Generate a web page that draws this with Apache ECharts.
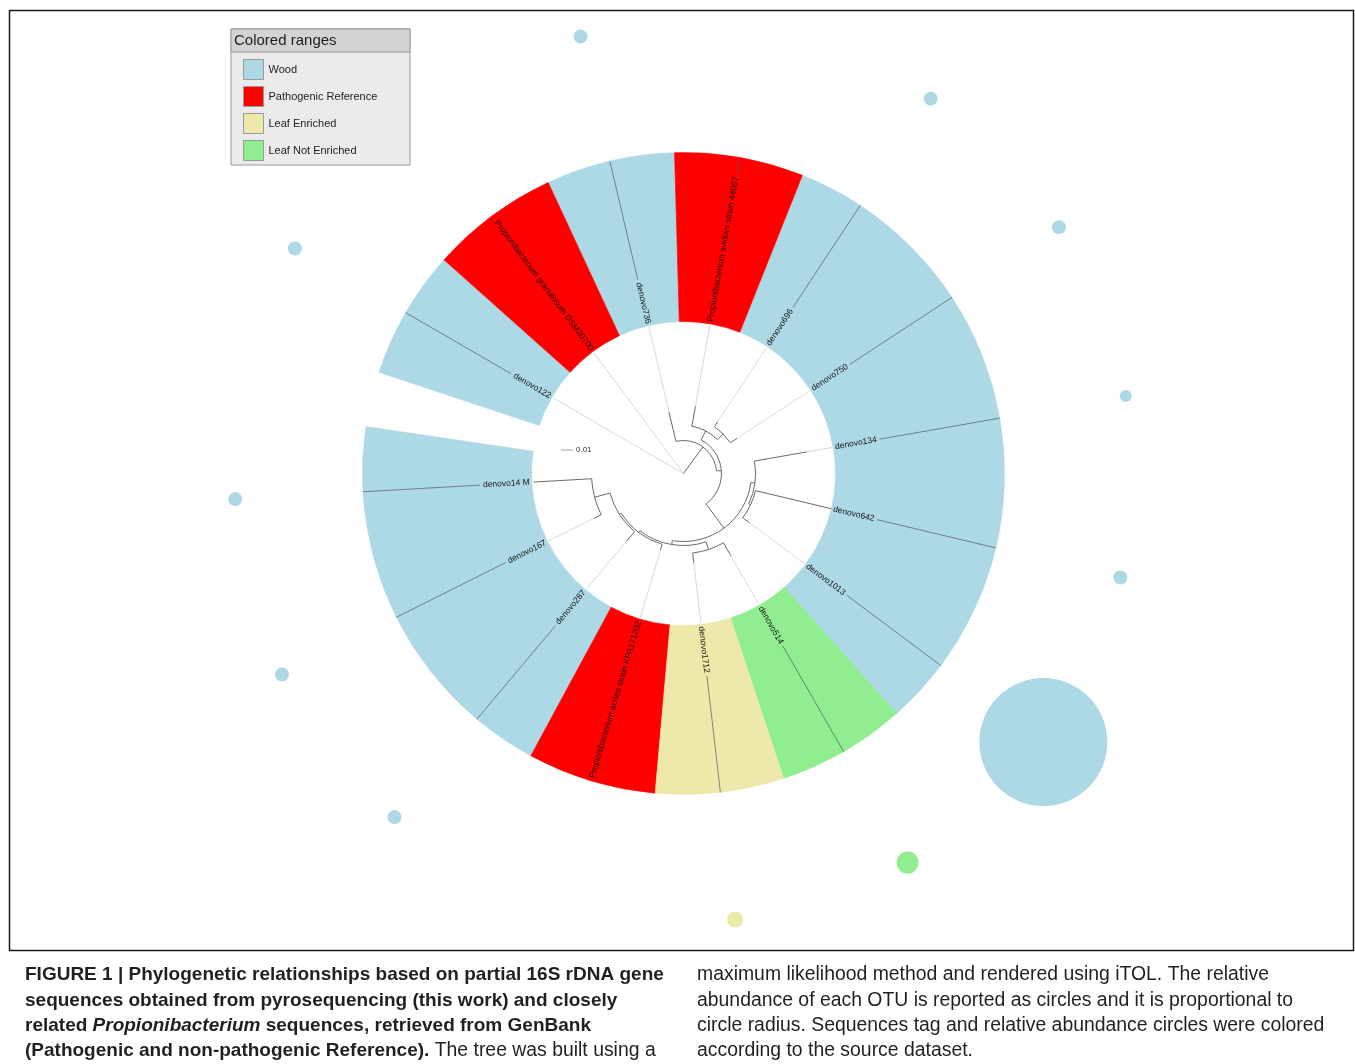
<!DOCTYPE html>
<html>
<head>
<meta charset="UTF-8">
<title>Figure 1 - Propionibacterium tree</title>
<style>
  html, body { margin: 0; padding: 0; background: #fff; }
  #chart { width: 1355px; height: 1064px; }
</style>
</head>
<body>
<div id="chart"></div>
<script src="https://cdn.jsdelivr.net/npm/echarts@6/dist/echarts.min.js"></script>
<script>
// leaves, clockwise starting after the gap on the left
var leafNames = ['denovo122', 'Propionibacterium granulosum DSM20700', 'denovo736', 'Propionibacterium avidum strain 44067',
  'denovo696', 'denovo750', 'denovo134', 'denovo642', 'denovo1013', 'denovo514', 'denovo1712',
  'Propionibacterium acnes strain KPA171202', 'denovo287', 'denovo167', 'denovo14 M'];
var leafGroup = ['Wood', 'Pathogenic Reference', 'Wood', 'Pathogenic Reference', 'Wood', 'Wood', 'Wood', 'Wood',
  'Wood', 'Leaf Not Enriched', 'Leaf Enriched', 'Pathogenic Reference', 'Wood', 'Wood', 'Wood'];
var leafParent = ['R', 'R', 'B', 'E', 'F', 'F', 'H', 'K', 'K', 'M', 'M', 'N', 'P', 'Q', 'Q'];
var leafDepth = [0, 0, 63, 68, 62, 64, 125, 152, 82, 95, 90, 80, 88, 100, 150];
var abundance = [7, 0, 7, 0, 7, 7, 6, 7, 64, 11, 8, 0, 7, 7, 7];

// internal nodes of the tree
var nodeIds = ['R', 'B', 'C', 'E', 'F', 'G', 'H', 'K', 'J', 'M', 'N', 'P', 'Q'];
var nodeParent = [null, 'R', 'B', 'C', 'E', 'C', 'G', 'H', 'G', 'J', 'J', 'N', 'P'];
var nodeDepth = [0, 33, 38, 48, 56, 68, 72, 74, 72, 80, 74, 76, 92];

var groupNames = ['Wood', 'Pathogenic Reference', 'Leaf Enriched', 'Leaf Not Enriched'];
var groupColors = ['#add8e6', '#ff0000', '#eee8aa', '#90ee90'];

var captionLeft = [
  [['b', 'FIGURE 1 | Phylogenetic relationships based on partial 16S rDNA gene']],
  [['b', 'sequences obtained from pyrosequencing (this work) and closely']],
  [['b', 'related '], ['bi', 'Propionibacterium'], ['b', ' sequences, retrieved from GenBank']],
  [['b', '(Pathogenic and non-pathogenic Reference).'], ['r', ' The tree was built using a']]
];
var captionRight = [
  'maximum likelihood method and rendered using iTOL. The relative',
  'abundance of each OTU is reported as circles and it is proportional to',
  'circle radius. Sequences tag and relative abundance circles were colored',
  'according to the source dataset.'
];

var RING_IN = 152, RING_OUT = 321, DOT_R = 449;
var FONT = '"Liberation Sans", Arial, Helvetica, sans-serif';
var LABEL_SIZE = 8.5;

// tree layout: a node sits halfway between its first and last child
var children = {}, lo = {}, hi = {}, ang = {}, depthOf = {};
nodeIds.forEach(function (id, k) { children[id] = []; depthOf[id] = nodeDepth[k]; });
leafParent.forEach(function (p, i) { children[p].push({ leaf: true, i: i }); });
nodeParent.forEach(function (p, k) { if (p) children[p].push({ leaf: false, id: nodeIds[k] }); });
function place(id) {
  var a = children[id].map(function (c) { return c.leaf ? c.i : place(c.id); });
  lo[id] = Math.min.apply(null, a);
  hi[id] = Math.max.apply(null, a);
  ang[id] = (lo[id] + hi[id]) / 2;
  return ang[id];
}
place('R');

var branchData = [];
leafNames.forEach(function (n, i) {
  branchData.push([leafDepth[i], i, depthOf[leafParent[i]], 0, 0, 1]);
});
nodeIds.forEach(function (id, k) {
  branchData.push([nodeDepth[k], ang[id], nodeParent[k] ? depthOf[nodeParent[k]] : 0, lo[id], hi[id], 0]);
});

var measure = document.createElement('canvas').getContext('2d');
measure.font = LABEL_SIZE + 'px ' + FONT;

function scrAngle(p, cs) { return Math.atan2(p[1] - cs.cy, p[0] - cs.cx); }
function dist(p, cs) { return Math.sqrt((p[0] - cs.cx) * (p[0] - cs.cx) + (p[1] - cs.cy) * (p[1] - cs.cy)); }
function seg(api, r1, r2, a, style) {
  var p = api.coord([r1, a]), q = api.coord([r2, a]);
  return { type: 'line', shape: { x1: p[0], y1: p[1], x2: q[0], y2: q[1] }, style: style };
}

function renderRange(params, api) {
  var cs = params.coordSys;
  var i = api.value(1);
  var s = api.coord([api.value(0), i - 0.5]), e = api.coord([api.value(0), i + 0.5]);
  var inner = dist(api.coord([RING_IN, i]), cs);
  var color = api.visual('color');
  return {
    type: 'sector',
    shape: { cx: cs.cx, cy: cs.cy, r0: inner, r: dist(s, cs), startAngle: scrAngle(s, cs), endAngle: scrAngle(e, cs), clockwise: true },
    style: { fill: color, stroke: color, lineWidth: 0.6 }
  };
}

function renderBranch(params, api) {
  var cs = params.coordSys;
  var r = api.value(0), a = api.value(1), pr = api.value(2);
  var st = { stroke: '#6b6b6b', lineWidth: 1 };
  var out = [seg(api, pr, r, a, st)];
  if (!api.value(5) && r > 0) {
    var s = api.coord([r, api.value(3)]), e = api.coord([r, api.value(4)]);
    out.push({
      type: 'arc',
      shape: { cx: cs.cx, cy: cs.cy, r: dist(s, cs), startAngle: scrAngle(s, cs), endAngle: scrAngle(e, cs), clockwise: true },
      style: { stroke: '#6b6b6b', lineWidth: 1, fill: null }
    });
  }
  return { type: 'group', children: out };
}

function renderLabel(params, api) {
  var cs = params.coordSys;
  var i = api.value(1), name = leafNames[i];
  var p = api.coord([api.value(0) + 2, i]);
  var theta = Math.atan2(cs.cy - p[1], p[0] - cs.cx);
  var right = Math.cos(theta) >= 0;
  var w = measure.measureText(name).width;
  var out = [seg(api, api.value(2), api.value(0) - 1, i, { stroke: '#cfcfcf', lineWidth: 0.8 })];
  out.push({
    type: 'text', x: p[0], y: p[1], rotation: right ? theta : theta - Math.PI,
    style: { text: name, fontSize: LABEL_SIZE, fontFamily: FONT, fill: '#151515', align: right ? 'left' : 'right', verticalAlign: 'middle' }
  });
  var start = api.value(0) + 5 + w;
  if (start < RING_OUT - 8) {
    out.push(seg(api, start, RING_OUT, i, { stroke: '#4f5b60', lineWidth: 0.7 }));
  }
  return { type: 'group', children: out };
}

var series = groupNames.map(function (g, k) {
  return {
    name: g, type: 'custom', coordinateSystem: 'polar',
    itemStyle: { color: groupColors[k] },
    renderItem: renderRange,
    data: leafNames.map(function (n, i) { return [RING_OUT, i]; }).filter(function (d) { return leafGroup[d[1]] === g; }),
    z: 1, silent: true
  };
});
series.push({
  name: 'labels', type: 'custom', coordinateSystem: 'polar', renderItem: renderLabel, z: 3, silent: true,
  data: leafNames.map(function (n, i) { return [RING_IN, i, leafDepth[i]]; })
});
series.push({
  name: 'tree', type: 'custom', coordinateSystem: 'polar', renderItem: renderBranch, z: 4, silent: true,
  data: branchData
});
series.push({
  name: 'abundance', type: 'scatter', coordinateSystem: 'polar', z: 5, silent: true,
  symbolSize: function (v) { return v[2] * 2; },
  data: leafNames.map(function (n, i) {
    return { value: [DOT_R, i, abundance[i]], itemStyle: { color: groupColors[groupNames.indexOf(leafGroup[i])], opacity: 1 } };
  }).filter(function (d) { return d.value[2] > 0; })
});

// caption text
var rich = {
  b: { fontSize: 19, fontWeight: 'bold', fontFamily: FONT, fill: '#231f20' },
  bi: { fontSize: 19, fontWeight: 'bold', fontStyle: 'italic', fontFamily: FONT, fill: '#231f20' },
  r: { fontSize: 19.4, fontFamily: FONT, fill: '#231f20' }
};
var lineY = [975, 1000.3, 1025.6, 1051];
var graphics = [
  { type: 'rect', shape: { x: 9.5, y: 10.5, width: 1344, height: 940 }, style: { fill: null, stroke: '#1a1a1a', lineWidth: 1.5 }, z: 0 },
  { type: 'rect', shape: { x: 231, y: 29, width: 179, height: 136 }, style: { fill: '#ebebeb', stroke: '#9a9a9a', lineWidth: 1 }, z: 0 },
  { type: 'rect', shape: { x: 231, y: 29, width: 179, height: 23 }, style: { fill: '#d3d3d3', stroke: '#9a9a9a', lineWidth: 1 }, z: 0 },
  { type: 'text', x: 234, y: 41, style: { text: 'Colored ranges', fontSize: 15, fontFamily: FONT, fill: '#1e1e1e', verticalAlign: 'middle' }, z: 1 },
  { type: 'line', shape: { x1: 561, y1: 450, x2: 573, y2: 450 }, style: { stroke: '#888', lineWidth: 0.8 }, z: 1 },
  { type: 'text', x: 576, y: 450, style: { text: '0.01', fontSize: 8, fontFamily: FONT, fill: '#333', verticalAlign: 'middle' }, z: 1 }
];
captionLeft.forEach(function (segs, k) {
  graphics.push({
    type: 'text', x: 25, y: lineY[k],
    style: { text: segs.map(function (s) { return '{' + s[0] + '|' + s[1] + '}'; }).join(''), rich: rich, verticalAlign: 'middle' }
  });
});
captionRight.forEach(function (t, k) {
  graphics.push({
    type: 'text', x: 697, y: lineY[k],
    style: { text: t, fontSize: 19.4, fontFamily: FONT, fill: '#231f20', verticalAlign: 'middle' }
  });
});

var chart = echarts.init(document.getElementById('chart'), null, { renderer: 'canvas' });
chart.setOption({
  animation: false,
  backgroundColor: '#fff',
  polar: { center: [683.5, 473.5], radius: [0, 460] },
  angleAxis: { type: 'value', min: -0.5, max: -0.5 + 15 * 360 / 350, startAngle: 161.6, clockwise: true, show: false },
  radiusAxis: { type: 'value', min: 0, max: 460, show: false },
  legend: {
    orient: 'vertical', left: 243, top: 59, itemWidth: 20, itemHeight: 20, itemGap: 6, padding: 0,
    icon: 'rect', selectedMode: false,
    textStyle: { fontSize: 11, color: '#222', fontFamily: FONT },
    data: groupNames.map(function (n, k) {
      return { name: n, itemStyle: { color: groupColors[k], borderColor: '#9a9a9a', borderWidth: 1 } };
    })
  },
  graphic: graphics,
  series: series
});
</script>
</body>
</html>
